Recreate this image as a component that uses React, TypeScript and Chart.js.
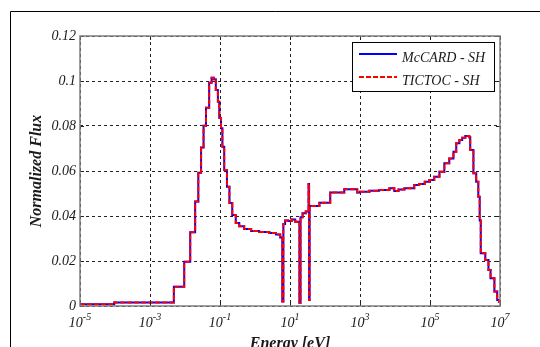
import React, { useEffect, useRef } from 'react';
import { Chart, registerables } from 'chart.js';
Chart.register(...registerables);

// Lower bin edges in eV (the flux value holds from this energy up to the next one)
const energy = [
  1.0e-5, 9.5e-5, 4.8e-3, 9.5e-3, 1.41e-2, 1.95e-2, 2.40e-2, 2.88e-2, 3.39e-2, 3.98e-2,
  4.90e-2, 5.75e-2, 6.61e-2, 7.59e-2, 8.71e-2, 9.55e-2, 0.107, 0.117, 0.132, 0.158,
  0.186, 0.224, 0.282, 0.355, 0.490, 0.776, 1.32, 2.57, 3.98, 5.25,
  6.03, 6.46, 7.24, 8.91, 11.2, 14.1, 18.6, 20.0, 22.9, 28.2,
  33.9, 35.1, 36.3, 69.2, 141, 355, 832, 1000, 1860, 3550,
  6920, 9550, 12600, 18600, 35500, 49000, 70800, 95500, 1.32e5, 1.86e5,
  2.57e5, 3.55e5, 4.68e5, 5.62e5, 6.92e5, 8.32e5, 1.02e6, 1.32e6, 1.41e6, 1.74e6,
  2.09e6, 2.40e6, 2.63e6, 2.82e6, 3.80e6, 4.68e6, 5.37e6, 6.92e6, 8.32e6, 9.33e6,
  1.0e7,
];

const mccardFlux = [
  0.0008, 0.0016, 0.0086, 0.0197, 0.0328, 0.0464, 0.0592, 0.0704, 0.0801, 0.0881,
  0.0992, 0.1015, 0.1008, 0.0960, 0.0908, 0.0836, 0.0790, 0.0708, 0.0604, 0.0530,
  0.0458, 0.0404, 0.0369, 0.0355, 0.0342, 0.0333, 0.0329, 0.0324, 0.0318, 0.0305,
  0.0020, 0.0365, 0.0380, 0.0378, 0.0385, 0.0375, 0.0015, 0.0395, 0.0412, 0.0420,
  0.0542, 0.0027, 0.0444, 0.0459, 0.0504, 0.0519, 0.0504, 0.0508, 0.0512, 0.0516,
  0.0523, 0.0511, 0.0518, 0.0523, 0.0538, 0.0542, 0.0552, 0.0560, 0.0575, 0.0597,
  0.0634, 0.0656, 0.0686, 0.0723, 0.0738, 0.0748, 0.0756, 0.0750, 0.0693, 0.0590,
  0.0552, 0.0486, 0.0380, 0.0234, 0.0204, 0.0160, 0.0123, 0.0064, 0.0027, 0.0019,
  0.0019,
];

const tictocFlux = [
  0.0008, 0.0016, 0.0086, 0.0197, 0.0328, 0.0464, 0.0592, 0.0704, 0.0801, 0.0881,
  0.0992, 0.1015, 0.1008, 0.0960, 0.0908, 0.0836, 0.0790, 0.0708, 0.0604, 0.0530,
  0.0458, 0.0404, 0.0369, 0.0355, 0.0342, 0.0333, 0.0329, 0.0324, 0.0318, 0.0305,
  0.0020, 0.0365, 0.0380, 0.0378, 0.0385, 0.0375, 0.0015, 0.0395, 0.0412, 0.0420,
  0.0542, 0.0027, 0.0444, 0.0459, 0.0504, 0.0519, 0.0504, 0.0508, 0.0512, 0.0516,
  0.0523, 0.0511, 0.0518, 0.0523, 0.0538, 0.0542, 0.0552, 0.0560, 0.0575, 0.0597,
  0.0634, 0.0656, 0.0686, 0.0723, 0.0738, 0.0748, 0.0756, 0.0750, 0.0693, 0.0590,
  0.0552, 0.0486, 0.0380, 0.0234, 0.0204, 0.0160, 0.0123, 0.0064, 0.0027, 0.0019,
  0.0019,
];

const xTickValues = [1e-5, 1e-3, 1e-1, 1e1, 1e3, 1e5, 1e7];
const xTickExponents = ['-5', '-3', '-1', '1', '3', '5', '7'];
const seriesNames = ['McCARD - SH', 'TICTOC - SH'];
const xTitle = 'Energy [eV]';
const yTitle = 'Normalized Flux';

const SERIF = "'Liberation Serif', 'Times New Roman', serif";

const decorPlugin = {
  id: 'decor',
  beforeDraw(chart: any) {
    const ctx = chart.ctx;
    ctx.save();
    ctx.fillStyle = '#ffffff';
    ctx.fillRect(0, 0, chart.width, chart.height);
    ctx.strokeStyle = '#000000';
    ctx.lineWidth = 1;
    ctx.beginPath();
    ctx.moveTo(10.5, chart.height);
    ctx.lineTo(10.5, 11.5);
    ctx.lineTo(chart.width, 11.5);
    ctx.stroke();
    ctx.restore();
  },
  afterDraw(chart: any) {
    const ctx = chart.ctx;
    const area = chart.chartArea;
    const xs = chart.scales.x;
    const ys = chart.scales.y;
    ctx.save();
    // small solid tick marks inside the box
    ctx.strokeStyle = '#222';
    ctx.lineWidth = 1;
    xs.ticks.forEach((t: any) => {
      const px = Math.round(xs.getPixelForValue(t.value)) + 0.5;
      ctx.beginPath();
      ctx.moveTo(px, area.bottom);
      ctx.lineTo(px, area.bottom - 4);
      ctx.moveTo(px, area.top);
      ctx.lineTo(px, area.top + 4);
      ctx.stroke();
    });
    ys.ticks.forEach((t: any) => {
      const py = Math.round(ys.getPixelForValue(t.value)) + 0.5;
      ctx.beginPath();
      ctx.moveTo(area.left, py);
      ctx.lineTo(area.left + 4, py);
      ctx.moveTo(area.right, py);
      ctx.lineTo(area.right - 4, py);
      ctx.stroke();
    });
    // plot frame
    ctx.strokeStyle = '#7f7f7f';
    ctx.lineWidth = 1.5;
    ctx.strokeRect(area.left, area.top, area.right - area.left, area.bottom - area.top);

    // x tick labels with superscript exponents
    ctx.fillStyle = '#1a1a1a';
    ctx.textBaseline = 'alphabetic';
    ctx.textAlign = 'left';
    xs.ticks.forEach((t: any, i: number) => {
      const px = xs.getPixelForValue(t.value);
      const exp = xTickExponents[i] ?? '';
      ctx.font = `italic 14px ${SERIF}`;
      const w1 = ctx.measureText('10').width;
      ctx.font = `italic 10px ${SERIF}`;
      const w2 = ctx.measureText(exp).width;
      const start = px - (w1 + w2) / 2;
      ctx.font = `italic 14px ${SERIF}`;
      ctx.fillText('10', start, 327);
      ctx.font = `italic 10px ${SERIF}`;
      ctx.fillText(exp, start + w1, 320);
    });

    // axis titles
    ctx.font = `bold italic 16px ${SERIF}`;
    ctx.fillStyle = '#1a1a1a';
    ctx.textAlign = 'center';
    ctx.textBaseline = 'top';
    ctx.fillText(xTitle, (area.left + area.right) / 2, 336);
    ctx.save();
    ctx.translate(37, (area.top + area.bottom) / 2);
    ctx.rotate(-Math.PI / 2);
    ctx.textBaseline = 'middle';
    ctx.fillText(yTitle, 0, 0);
    ctx.restore();

    // legend
    const lx = 352.5, ly = 42.5, lw = 142, lh = 49;
    ctx.fillStyle = '#ffffff';
    ctx.fillRect(lx, ly, lw, lh);
    ctx.strokeStyle = '#000000';
    ctx.lineWidth = 1;
    ctx.strokeRect(lx, ly, lw, lh);
    const ds = chart.data.datasets;
    const rows = [54, 77];
    rows.forEach((ry, i) => {
      const d = ds[i];
      ctx.strokeStyle = d.borderColor;
      ctx.lineWidth = 2;
      ctx.setLineDash(d.borderDash || []);
      ctx.beginPath();
      ctx.moveTo(359, ry);
      ctx.lineTo(397, ry);
      ctx.stroke();
      ctx.setLineDash([]);
      ctx.fillStyle = '#1a1a1a';
      ctx.font = `italic 14px ${SERIF}`;
      ctx.textAlign = 'left';
      ctx.textBaseline = 'alphabetic';
      ctx.fillText(d.label, 402, ry + 7.5);
    });
    ctx.restore();
  },
};

export default function App() {
  const ref = useRef<HTMLCanvasElement | null>(null);
  useEffect(() => {
    if (!ref.current) return;
    const chart = new Chart(ref.current, {
      type: 'line',
      data: {
        datasets: [
          {
            label: seriesNames[0],
            data: energy.map((e, i) => ({ x: e, y: mccardFlux[i] })),
            borderColor: '#0000ff',
            borderWidth: 2,
            borderDash: [],
            pointRadius: 0,
            stepped: true,
            tension: 0,
            fill: false,
            order: 2,
          },
          {
            label: seriesNames[1],
            data: energy.map((e, i) => ({ x: e, y: tictocFlux[i] })),
            borderColor: '#ff0000',
            borderWidth: 2,
            borderDash: [5, 2],
            pointRadius: 0,
            stepped: true,
            tension: 0,
            fill: false,
            order: 1,
          },
        ],
      },
      options: {
        animation: false,
        responsive: false,
        devicePixelRatio: 1,
        layout: { padding: { left: 0, top: 36, right: 40, bottom: 0 } },
        plugins: { legend: { display: false }, tooltip: { enabled: false }, title: { display: false } },
        scales: {
          x: {
            type: 'logarithmic',
            min: 1e-5,
            max: 1e7,
            afterBuildTicks: (scale: any) => {
              scale.ticks = xTickValues.map((v) => ({ value: v }));
            },
            afterFit: (scale: any) => {
              scale.height = 41;
            },
            ticks: { display: false },
            grid: { color: '#222', lineWidth: 1, drawTicks: false },
            border: { display: false, dash: [3, 3] },
          },
          y: {
            type: 'linear',
            min: 0,
            max: 0.12,
            afterFit: (scale: any) => {
              scale.width = 80;
            },
            ticks: {
              stepSize: 0.02,
              padding: 4,
              color: '#1a1a1a',
              font: { family: SERIF, style: 'italic', size: 14 },
              callback: (v: any) => String(Number(Number(v).toFixed(2))),
            },
            grid: { color: '#222', lineWidth: 1, drawTicks: false },
            border: { display: false, dash: [3, 3] },
          },
        },
      },
      plugins: [decorPlugin],
    });
    return () => chart.destroy();
  }, []);
  return (
    <div style={{ position: 'fixed', left: 0, top: 0, width: 540, height: 347, background: '#fff' }}>
      <canvas ref={ref} width={540} height={347} style={{ display: 'block' }} />
    </div>
  );
}
